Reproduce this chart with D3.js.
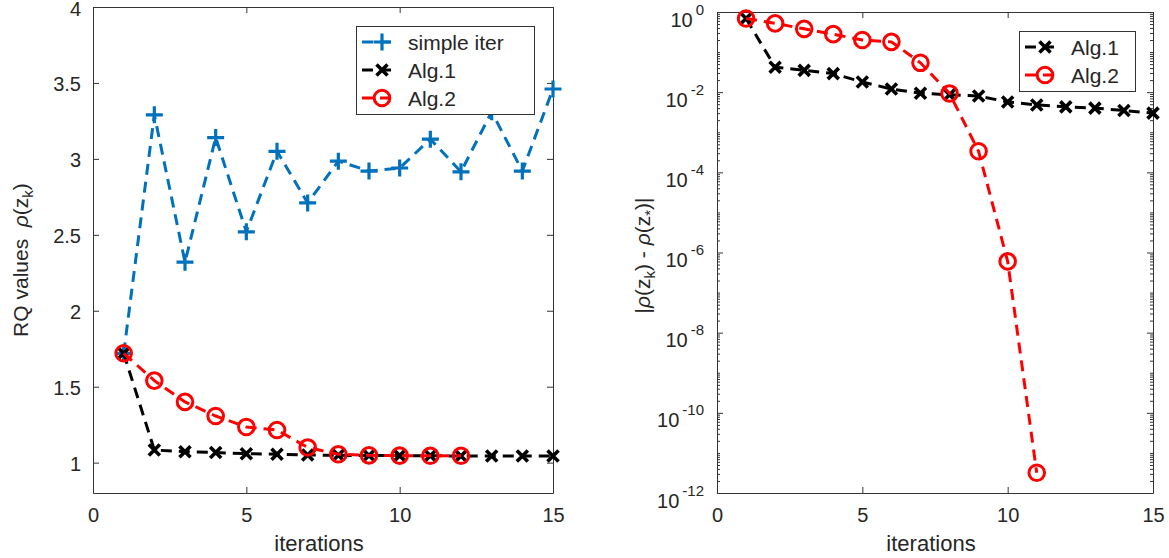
<!DOCTYPE html>
<html><head><meta charset="utf-8">
<script src="https://cdn.jsdelivr.net/npm/d3@7"></script>
<style>
body{margin:0;background:#fff}
svg text{font-family:"Liberation Sans",Arial,Helvetica,sans-serif;fill:#262626}
</style>
</head><body>
<svg id="c" width="1169" height="558"></svg>
<script>
// ---------------- data ----------------
const iterations = [1,2,3,4,5,6,7,8,9,10,11,12,13,14,15];
const simpleIter = [1.72,3.29,2.32,3.14,2.52,3.05,2.71,2.985,2.92,2.94,3.13,2.915,3.31,2.92,3.46];
const alg1RQ     = [1.72,1.083,1.072,1.066,1.059,1.055,1.05,1.048,1.047,1.046,1.045,1.044,1.044,1.043,1.043];
const alg2RQ     = [1.72,1.54,1.40,1.307,1.235,1.215,1.10,1.055,1.048,1.046,1.045,1.045];
const alg1Err    = [0.69,0.042,0.035,0.029,0.018,0.012,0.0094,0.0086,0.0080,0.0057,0.0048,0.0043,0.0040,0.0035,0.0030];
const alg2Err    = [0.69,0.52,0.38,0.28,0.20,0.18,0.054,0.0093,3.35e-4,6.0e-7,3.2e-12];
const xTicks = [0,5,10,15];
const yTicksLeft = [1,1.5,2,2.5,3,3.5,4];
const yTicksRightExp = [0,-2,-4,-6,-8,-10,-12];
const seriesNames = ["simple iter","Alg.1","Alg.2"];

// ---------------- styles ----------------
const BLUE="#0072BD", RED="#FF0000", BLACK="#000000", AX="#333333";
const DASH="11,7", LW=3;

const svg = d3.select("#c");

function markerPlus(g, x, y){ g.append("path").attr("d",`M${x-8.5},${y}H${x+8.5}M${x},${y-8.5}V${y+8.5}`)
  .attr("stroke",BLUE).attr("stroke-width",3.2).attr("fill","none"); }
function markerX(g, x, y){ const s=5.5; g.append("path").attr("d",`M${x-s},${y-s}L${x+s},${y+s}M${x-s},${y+s}L${x+s},${y-s}`)
  .attr("stroke",BLACK).attr("stroke-width",3.6).attr("fill","none"); }
function markerO(g, x, y){ g.append("circle").attr("cx",x).attr("cy",y).attr("r",7.8)
  .attr("stroke",RED).attr("stroke-width",3).attr("fill","none"); }

function drawSeries(g, xs, ys, xS, yS, color, marker){
  const pts = ys.map((v,i)=>[xS(xs[i]), yS(v)]);
  g.append("path").attr("d", d3.line()(pts)).attr("fill","none")
    .attr("stroke",color).attr("stroke-width",LW).attr("stroke-dasharray",DASH);
  pts.forEach(p=>marker(g,p[0],p[1]));
}

function frame(g, xS, yS, x0,x1,y0,y1, yTickVals, yFmt, minorVals){
  const b = g.append("g").attr("transform",`translate(0,${y1})`)
    .call(d3.axisBottom(xS).tickValues(xTicks).tickSize(-6).tickSizeOuter(0).tickPadding(10).tickFormat(d3.format("d")));
  const t = g.append("g").attr("transform",`translate(0,${y0})`)
    .call(d3.axisTop(xS).tickValues(xTicks).tickSize(-6).tickSizeOuter(0).tickFormat(""));
  const l = g.append("g").attr("transform",`translate(${x0},0)`)
    .call(d3.axisLeft(yS).tickValues(yTickVals).tickSize(-6).tickSizeOuter(0).tickPadding(12).tickFormat(yFmt));
  const r = g.append("g").attr("transform",`translate(${x1},0)`)
    .call(d3.axisRight(yS).tickValues(yTickVals).tickSize(-6).tickSizeOuter(0).tickFormat(""));
  [b,t,l,r].forEach(a=>{
    a.selectAll("path.domain").attr("stroke",AX);
    a.selectAll(".tick line").attr("stroke",AX);
    a.selectAll("text").attr("font-size",20).attr("fill","#262626")
      .style("font-family",'"Liberation Sans",Arial,Helvetica,sans-serif');
  });
  b.selectAll("text").attr("dy","0.95em");
  if(minorVals){
    g.append("g").attr("transform",`translate(${x0},0)`)
      .call(d3.axisLeft(yS).tickValues(minorVals).tickSize(-3).tickSizeOuter(0).tickFormat(""))
      .call(a=>{a.select(".domain").remove(); a.selectAll(".tick line").attr("stroke",AX);});
    g.append("g").attr("transform",`translate(${x1},0)`)
      .call(d3.axisRight(yS).tickValues(minorVals).tickSize(-3).tickSizeOuter(0).tickFormat(""))
      .call(a=>{a.select(".domain").remove(); a.selectAll(".tick line").attr("stroke",AX);});
  }
  return l;
}

function legend(g, x, y, w, h, rowsY, items){
  g.append("rect").attr("x",x+0.5).attr("y",y+0.5).attr("width",w).attr("height",h)
    .attr("fill","#fff").attr("stroke",AX).attr("stroke-width",1);
  items.forEach((it,i)=>{
    const yy = y + rowsY[i];
    g.append("line").attr("x1",x+6).attr("x2",x+40).attr("y1",yy).attr("y2",yy)
      .attr("stroke",it.color).attr("stroke-width",LW).attr("stroke-dasharray",DASH);
    it.marker(g, x+26, yy);
    g.append("text").attr("x",x+52).attr("y",yy).attr("dy","0.36em").attr("font-size",21).text(it.name);
  });
}

// ---------------- left plot ----------------
{
  const x0=93,x1=553,y0=7,y1=493;
  const xS = d3.scaleLinear().domain([0,15]).range([x0,x1]);
  const yS = d3.scaleLinear().domain([0.8,4]).range([y1,y0]);
  const g = svg.append("g");
  const l = frame(g,xS,yS,x0,x1,y0,y1,yTicksLeft,d3.format("~g"),null);
  l.selectAll("text").attr("dy","0.4em");
  drawSeries(g, iterations, simpleIter, xS, yS, BLUE, markerPlus);
  drawSeries(g, iterations, alg1RQ, xS, yS, BLACK, markerX);
  drawSeries(g, iterations, alg2RQ, xS, yS, RED, markerO);
  legend(g, 356, 26, 178, 88, [16,44,72], [
    {name:seriesNames[0],color:BLUE,marker:markerPlus},
    {name:seriesNames[1],color:BLACK,marker:markerX},
    {name:seriesNames[2],color:RED,marker:markerO}]);
  g.append("text").attr("x",(x0+x1)/2 - 4).attr("y",551).attr("text-anchor","middle").attr("font-size",22).text("iterations");
  const yl = g.append("text").attr("transform",`translate(28,${(y0+y1)/2 + 10}) rotate(-90)`)
    .attr("text-anchor","middle").attr("font-size",21).attr("xml:space","preserve");
  yl.append("tspan").text("RQ values  ");
  yl.append("tspan").attr("font-style","italic").text("ρ");
  yl.append("tspan").text("(z");
  yl.append("tspan").attr("font-size",15).attr("dy",5).text("k");
  yl.append("tspan").attr("dy",-5).text(")");
}

// ---------------- right plot ----------------
{
  const x0=717,x1=1153,y0=12,y1=493;
  const xS = d3.scaleLinear().domain([0,15]).range([x0,x1]);
  const yS = d3.scaleLog().domain([1e-12,1]).range([y1,y0]);
  const g = svg.append("g");
  const majors = yTicksRightExp.map(e=>Math.pow(10,e));
  const minors = [];
  for(let e=-12;e<0;e++){ for(let m=2;m<=9;m++) minors.push(m*Math.pow(10,e)); if(e%2!==0) minors.push(Math.pow(10,e)); }
  const l = frame(g,xS,yS,x0,x1,y0,y1,majors,()=>"",minors);
  l.selectAll(".tick").each(function(d){
    const e = Math.round(Math.log10(d));
    const t = d3.select(this).select("text").attr("x",-13).attr("y",14).attr("dy",null).attr("text-anchor","end");
    t.text(null);
    t.append("tspan").text("10");
    t.append("tspan").attr("font-size",15).attr("dy",-12).attr("dx",3).text(String(e));
  });
  drawSeries(g, iterations, alg1Err, xS, yS, BLACK, markerX);
  drawSeries(g, iterations.slice(0,alg2Err.length), alg2Err, xS, yS, RED, markerO);
  legend(g, 1019, 31, 116, 60, [16,44], [
    {name:seriesNames[1],color:BLACK,marker:markerX},
    {name:seriesNames[2],color:RED,marker:markerO}]);
  g.append("text").attr("x",(x0+x1)/2 - 4).attr("y",551).attr("text-anchor","middle").attr("font-size",22).text("iterations");
  const yl = g.append("text").attr("transform",`translate(650,${(y0+y1)/2 + 3}) rotate(-90)`)
    .attr("text-anchor","middle").attr("font-size",21).attr("xml:space","preserve");
  yl.append("tspan").text("|");
  yl.append("tspan").attr("font-style","italic").text("ρ");
  yl.append("tspan").text("(z");
  yl.append("tspan").attr("font-size",15).attr("dy",5).text("k");
  yl.append("tspan").attr("dy",-5).text(") - ");
  yl.append("tspan").attr("font-style","italic").text("ρ");
  yl.append("tspan").text("(z");
  yl.append("tspan").attr("font-size",15).attr("dy",5).text("*");
  yl.append("tspan").attr("dy",-5).text(")|");
}
</script>
</body></html>
